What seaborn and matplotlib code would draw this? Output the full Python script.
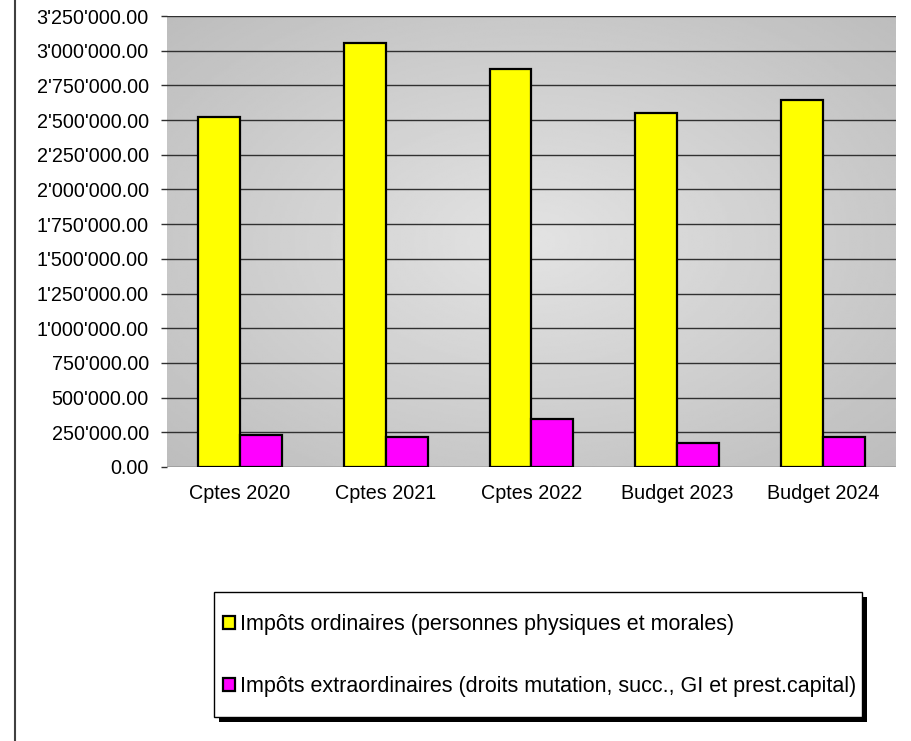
import numpy as np
import pandas as pd
import matplotlib.pyplot as plt
import seaborn as sns
from matplotlib.ticker import FuncFormatter, MultipleLocator
from matplotlib.patches import Rectangle
from matplotlib.lines import Line2D

# values
categories = ['Cptes 2020', 'Cptes 2021', 'Cptes 2022', 'Budget 2023', 'Budget 2024']
ordinaires = [2522000, 3055000, 2868000, 2549000, 2645000]
extraordinaires = [231000, 214000, 344000, 173000, 216000]
series_names = ['Impôts ordinaires (personnes physiques et morales)',
                'Impôts extraordinaires (droits mutation, succ., GI et prest.capital)']
colors = ['#FFFF00', '#FF00FF']

df = pd.DataFrame({
    'cat': categories * 2,
    'val': ordinaires + extraordinaires,
    'serie': [series_names[0]] * 5 + [series_names[1]] * 5,
})

sns.set_theme(style='white')
plt.rcParams['font.family'] = ['Liberation Sans', 'DejaVu Sans']

W, H = 912, 741
fig = plt.figure(figsize=(W / 100, H / 100), dpi=100)
ax = fig.add_axes([167 / W, 1 - 467 / H, (896 - 167) / W, (467 - 16) / H])

# radial grey gradient background
gx, gy = np.meshgrid(np.linspace(-1, 1, 300), np.linspace(-1, 1, 300))
r = np.clip(np.sqrt(gx ** 2 + gy ** 2) / np.sqrt(2), 0, 1)
shade = 0.89 - 0.15 * r
ax.imshow(shade, cmap='gray', vmin=0, vmax=1, extent=[0, 1, 0, 1],
          transform=ax.transAxes, aspect='auto', zorder=0)

sns.barplot(data=df, x='cat', y='val', hue='serie', palette=colors,
            saturation=1, width=0.575, gap=0, edgecolor='black',
            linewidth=1.6, ax=ax, zorder=2)

ax.set_ylim(0, 3250000)
ax.set_xlim(-0.5, 4.5)
ax.yaxis.set_major_locator(MultipleLocator(250000))
ax.yaxis.set_major_formatter(FuncFormatter(
    lambda v, p: f"{v:,.2f}".replace(',', "'")))
ax.set_xlabel('')
ax.set_ylabel('')

ax.set_axisbelow(True)
ax.yaxis.grid(True, color='#303030', linewidth=1.0)
ax.xaxis.grid(False)
gl = ax.get_ygridlines()
gl[0].set_visible(False)
gl[-1].set_visible(False)

for s in ax.spines.values():
    s.set_visible(False)
ax.tick_params(axis='y', which='major', left=True, length=4, width=1,
               color='#303030', labelsize=14.2, pad=9, labelcolor='black')
ax.tick_params(axis='x', bottom=False, labelsize=14.2, pad=6, labelcolor='black')

handles, labels = ax.get_legend_handles_labels()
ax.get_legend().remove()

# legend box with a hard black drop shadow
bx0, bx1, by0, by1 = 214, 862, 592, 717
fig.add_artist(Rectangle((bx0 / W + 5 / W, 1 - by1 / H - 5 / H),
                         (bx1 - bx0) / W, (by1 - by0) / H,
                         transform=fig.transFigure, facecolor='black',
                         edgecolor='none', zorder=3))
fig.add_artist(Rectangle((bx0 / W, 1 - by1 / H), (bx1 - bx0) / W, (by1 - by0) / H,
                         transform=fig.transFigure, facecolor='white',
                         edgecolor='black', linewidth=1.0, zorder=4))
leg = fig.legend(handles, labels, loc='upper left',
                 bbox_to_anchor=(223 / W, 1 - 614 / H), fontsize=15.5,
                 frameon=False, labelspacing=1.9, handlelength=0.55,
                 handleheight=0.55, handletextpad=0.25, borderpad=0,
                 borderaxespad=0, labelcolor='black')
leg.set_zorder(5)

# thin vertical line at the left edge of the picture
fig.add_artist(Line2D([15 / W, 15 / W], [0, 1], transform=fig.transFigure,
                      color='#404040', linewidth=1.5))

plt.savefig('out.png', dpi=100)
